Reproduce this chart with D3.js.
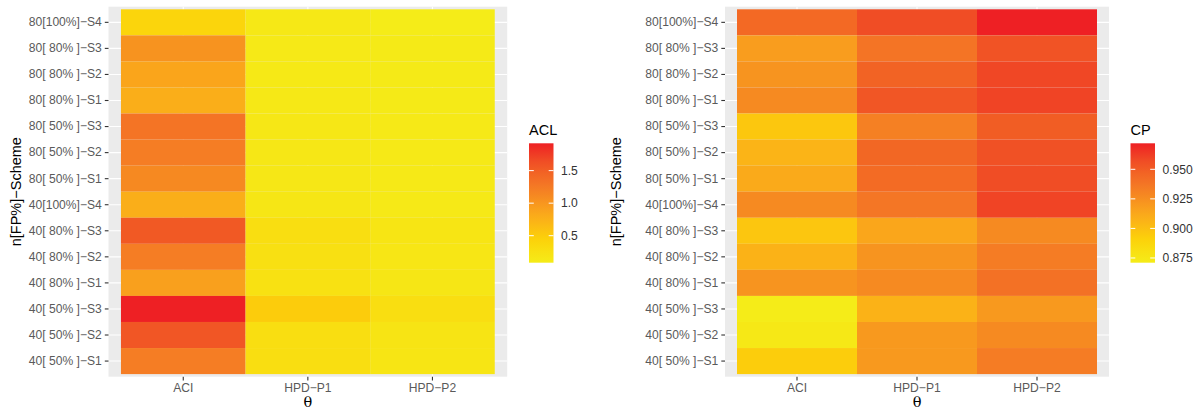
<!DOCTYPE html>
<html>
<head>
<meta charset="utf-8">
<script src="https://cdn.jsdelivr.net/npm/d3@7"></script>
<style>
  html, body { margin: 0; padding: 0; background: #fff; }
  svg { display: block; font-family: "Liberation Sans", Arial, Helvetica, sans-serif; }
</style>
</head>
<body>
<svg id="chart" width="1200" height="410"></svg>
<script>
// Row labels, listed from the top row down
const schemes = [
  "80[100%]\u2212S4", "80[ 80% ]\u2212S3", "80[ 80% ]\u2212S2", "80[ 80% ]\u2212S1",
  "80[ 50% ]\u2212S3", "80[ 50% ]\u2212S2", "80[ 50% ]\u2212S1", "40[100%]\u2212S4",
  "40[ 80% ]\u2212S3", "40[ 80% ]\u2212S2", "40[ 80% ]\u2212S1", "40[ 50% ]\u2212S3",
  "40[ 50% ]\u2212S2", "40[ 50% ]\u2212S1"
];
const methods = ["ACI", "HPD\u2212P1", "HPD\u2212P2"];

// Average confidence length, one array per interval type (same row order)
const aclACI = [0.40, 1.02, 0.86, 0.78, 1.31, 1.22, 1.11, 0.78, 1.55, 1.22, 0.91, 1.92, 1.57, 1.22];
const aclP1  = [0.14, 0.12, 0.13, 0.14, 0.15, 0.15, 0.15, 0.16, 0.27, 0.25, 0.24, 0.50, 0.28, 0.27];
const aclP2  = [0.085, 0.11, 0.11, 0.11, 0.12, 0.12, 0.12, 0.12, 0.18, 0.17, 0.16, 0.28, 0.19, 0.18];

// Coverage probability
const cpACI = [0.944, 0.918, 0.922, 0.927, 0.896, 0.906, 0.911, 0.927, 0.897, 0.907, 0.922, 0.871, 0.874, 0.893];
const cpP1  = [0.957, 0.938, 0.947, 0.953, 0.932, 0.945, 0.943, 0.937, 0.913, 0.922, 0.927, 0.907, 0.920, 0.920];
const cpP2  = [0.972, 0.954, 0.959, 0.960, 0.950, 0.955, 0.957, 0.960, 0.927, 0.934, 0.940, 0.920, 0.927, 0.934];

const aclTicks = [0.5, 1.0, 1.5];
const cpTicks = [0.875, 0.900, 0.925, 0.950];

// yellow -> orange -> red ramp, positions on a 0..1 scale
const rampPos    = [0, 0.2, 0.35, 0.45, 0.55, 0.65, 0.75, 0.85, 1];
const rampColors = ["#F5EC18", "#FCD10A", "#FBB317", "#F9A01D", "#F68B21", "#F47725", "#F26424", "#F04D25", "#EE2024"];
const ramp = d3.scaleLinear().domain(rampPos).range(rampColors).interpolate(d3.interpolateRgb);

const svg = d3.select("#chart");

function toCells(cols) {
  const out = [];
  cols.forEach((arr, j) => arr.forEach((v, i) => out.push({ scheme: schemes[i], method: methods[j], value: v })));
  return out;
}

function heatmap(opts) {
  const { cells, x0, x1, y0, y1, title, ticks, fmt, legendX, labelX } = opts;
  const g = svg.append("g");

  const x = d3.scaleBand().domain(methods).range([x0, x1]).paddingInner(0).paddingOuter(0.1);
  const y = d3.scaleBand().domain(schemes).range([y0, y1]).paddingInner(0).paddingOuter(0.1);

  const ext = d3.extent(cells, d => d.value);
  const norm = d3.scaleLinear().domain(ext).range([0, 1]).clamp(true);
  const color = v => ramp(norm(v));

  // panel background
  g.append("rect").attr("x", x0).attr("y", y0).attr("width", x1 - x0).attr("height", y1 - y0)
    .attr("fill", "#EBEBEB");

  // major grid at category centres
  g.selectAll(".vg").data(methods).join("line")
    .attr("x1", d => x(d) + x.bandwidth() / 2).attr("x2", d => x(d) + x.bandwidth() / 2)
    .attr("y1", y0).attr("y2", y1).attr("stroke", "#fff").attr("stroke-width", 1.1);
  g.selectAll(".hg").data(schemes).join("line")
    .attr("y1", d => y(d) + y.bandwidth() / 2).attr("y2", d => y(d) + y.bandwidth() / 2)
    .attr("x1", x0).attr("x2", x1).attr("stroke", "#fff").attr("stroke-width", 1.1);

  // tiles
  g.selectAll(".cell").data(cells).join("rect")
    .attr("x", d => x(d.method)).attr("y", d => y(d.scheme))
    .attr("width", x.bandwidth()).attr("height", y.bandwidth())
    .attr("fill", d => color(d.value));

  // axes
  const ax = g.append("g").attr("transform", `translate(0,${y1})`)
    .call(d3.axisBottom(x).tickSize(3.7).tickPadding(3));
  const ay = g.append("g").attr("transform", `translate(${x0},0)`)
    .call(d3.axisLeft(y).tickSize(3.7).tickPadding(3));
  [ax, ay].forEach(a => {
    a.select(".domain").remove();
    a.selectAll(".tick line").attr("stroke", "#333").attr("stroke-width", 1.1);
    a.selectAll(".tick text").attr("fill", "#5A5A5A").attr("font-size", 12.1);
  });
  ax.selectAll(".tick text").attr("dy", "0.72em");

  // axis titles
  g.append("text").attr("x", (x0 + x1) / 2).attr("y", 407)
    .attr("text-anchor", "middle").attr("font-size", 14.5)
    .attr("font-family", "'DejaVu Serif', 'Liberation Serif', serif")
    .attr("fill", "#000").text("\u03B8");
  g.append("text").attr("transform", `translate(${labelX},${(y0 + y1) / 2}) rotate(-90)`)
    .attr("text-anchor", "middle").attr("font-size", 14.5).attr("fill", "#000")
    .text("n[FP%]\u2212Scheme");

  // colour bar legend
  const barTop = 143.3, barBot = 262.7, barW = 24.5;
  const ly = d3.scaleLinear().domain(ext).range([barBot, barTop]);
  const gradId = "grad-" + title;
  const grad = svg.append("defs").append("linearGradient").attr("id", gradId)
    .attr("x1", 0).attr("y1", 1).attr("x2", 0).attr("y2", 0);
  d3.range(0, 1.0001, 0.05).forEach(t => {
    grad.append("stop").attr("offset", t).attr("stop-color", ramp(t));
  });
  const lg = g.append("g");
  lg.append("text").attr("x", legendX).attr("y", 134.5).attr("font-size", 14.5).attr("fill", "#000").text(title);
  lg.append("rect").attr("x", legendX).attr("y", barTop).attr("width", barW).attr("height", barBot - barTop)
    .attr("fill", `url(#${gradId})`);
  ticks.forEach(t => {
    const yy = ly(t);
    lg.append("line").attr("x1", legendX).attr("x2", legendX + 4.8).attr("y1", yy).attr("y2", yy)
      .attr("stroke", "#fff").attr("stroke-width", 1);
    lg.append("line").attr("x1", legendX + barW - 4.8).attr("x2", legendX + barW).attr("y1", yy).attr("y2", yy)
      .attr("stroke", "#fff").attr("stroke-width", 1);
    lg.append("text").attr("x", legendX + barW + 7.5).attr("y", yy).attr("dy", "0.35em")
      .attr("font-size", 12.1).attr("fill", "#333").text(fmt(t));
  });
}

heatmap({
  cells: toCells([aclACI, aclP1, aclP2]),
  x0: 108.5, x1: 507.2, y0: 6.7, y1: 376.7,
  title: "ACL", ticks: aclTicks, fmt: d3.format(".1f"),
  legendX: 529, labelX: 21
});

heatmap({
  cells: toCells([cpACI, cpP1, cpP2]),
  x0: 725, x1: 1109, y0: 6.7, y1: 376.7,
  title: "CP", ticks: cpTicks, fmt: d3.format(".3f"),
  legendX: 1130.5, labelX: 621
});
</script>
</body>
</html>
